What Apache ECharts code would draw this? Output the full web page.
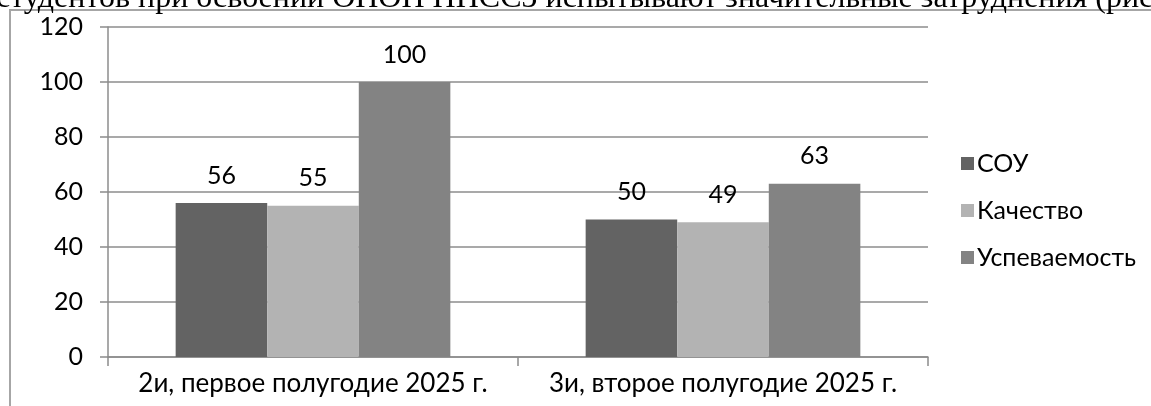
<!DOCTYPE html>
<html>
<head>
<meta charset="utf-8">
<script src="https://cdn.jsdelivr.net/npm/echarts@6/dist/echarts.min.js"></script>
<style>
  html, body { margin: 0; padding: 0; background: #fff; }
  #chart { width: 1151px; height: 406px; }
</style>
</head>
<body>
<div id="chart"></div>
<script>
// Groups and semester results
const categories = ['2и, первое полугодие 2025 г.', '3и, второе полугодие 2025 г.'];
const seriesNames = ['СОУ', 'Качество', 'Успеваемость'];
const souValues = [56, 50];
const qualityValues = [55, 49];
const progressValues = [100, 63];
const yTicks = { min: 0, max: 120, interval: 20 };
const barColors = ['#636363', '#b3b3b3', '#838383'];

const headingText = 'студентов при освоении ОПОП ППССЗ испытывают значительные затруднения (рис';

const chart = echarts.init(document.getElementById('chart'), null, { renderer: 'canvas' });

const gridColor = '#8c8c8c';
const labelFont = 'Lato';

function barSeries(name, values, color) {
  return {
    name: name,
    type: 'bar',
    data: values,
    barGap: '0%',
    barCategoryGap: '33%',
    itemStyle: { color: color },
    label: {
      show: true,
      position: 'top',
      distance: 15,
      color: '#000',
      fontFamily: labelFont,
      fontSize: 25
    },
    emphasis: { disabled: true }
  };
}

chart.setOption({
  animation: false,
  backgroundColor: '#fff',
  grid: { left: 108, right: 223, top: 27, bottom: 49, containLabel: false },
  legend: {
    orient: 'vertical',
    left: 956,
    top: 146,
    icon: 'rect',
    itemWidth: 13,
    itemHeight: 13,
    itemGap: 22,
    textStyle: { color: '#000', fontFamily: labelFont, fontSize: 25, padding: [0, 0, 0, -2] },
    data: seriesNames
  },
  xAxis: {
    type: 'category',
    data: categories,
    axisLine: { show: true, lineStyle: { color: gridColor, width: 1.5 } },
    axisTick: { show: true, alignWithLabel: false, interval: 0, length: 9, lineStyle: { color: gridColor, width: 1.5 } },
    axisLabel: { interval: 0, hideOverlap: false, color: '#000', fontFamily: labelFont, fontSize: 26, margin: 14 },
    splitLine: { show: false }
  },
  yAxis: {
    type: 'value',
    min: yTicks.min,
    max: yTicks.max,
    interval: yTicks.interval,
    axisLine: { show: true, lineStyle: { color: gridColor, width: 1.5 } },
    axisTick: { show: true, length: 8, lineStyle: { color: gridColor, width: 1.5 } },
    axisLabel: { color: '#000', fontFamily: labelFont, fontSize: 25, margin: 25 },
    splitLine: { show: true, lineStyle: { color: gridColor, width: 1.5 } }
  },
  graphic: [
    {
      type: 'rect',
      silent: true,
      shape: { x: 10, y: 10, width: 1300, height: 600 },
      style: { fill: 'none', stroke: '#a6a6a6', lineWidth: 2 },
      z: -1
    },
    {
      type: 'text',
      silent: true,
      x: -4,
      y: 15,
      style: {
        text: headingText,
        fontFamily: 'Liberation Serif',
        fontSize: 32,
        fill: '#000',
        verticalAlign: 'bottom'
      }
    }
  ],
  series: [
    barSeries(seriesNames[0], souValues, barColors[0]),
    barSeries(seriesNames[1], qualityValues, barColors[1]),
    barSeries(seriesNames[2], progressValues, barColors[2])
  ]
});
</script>
</body>
</html>
